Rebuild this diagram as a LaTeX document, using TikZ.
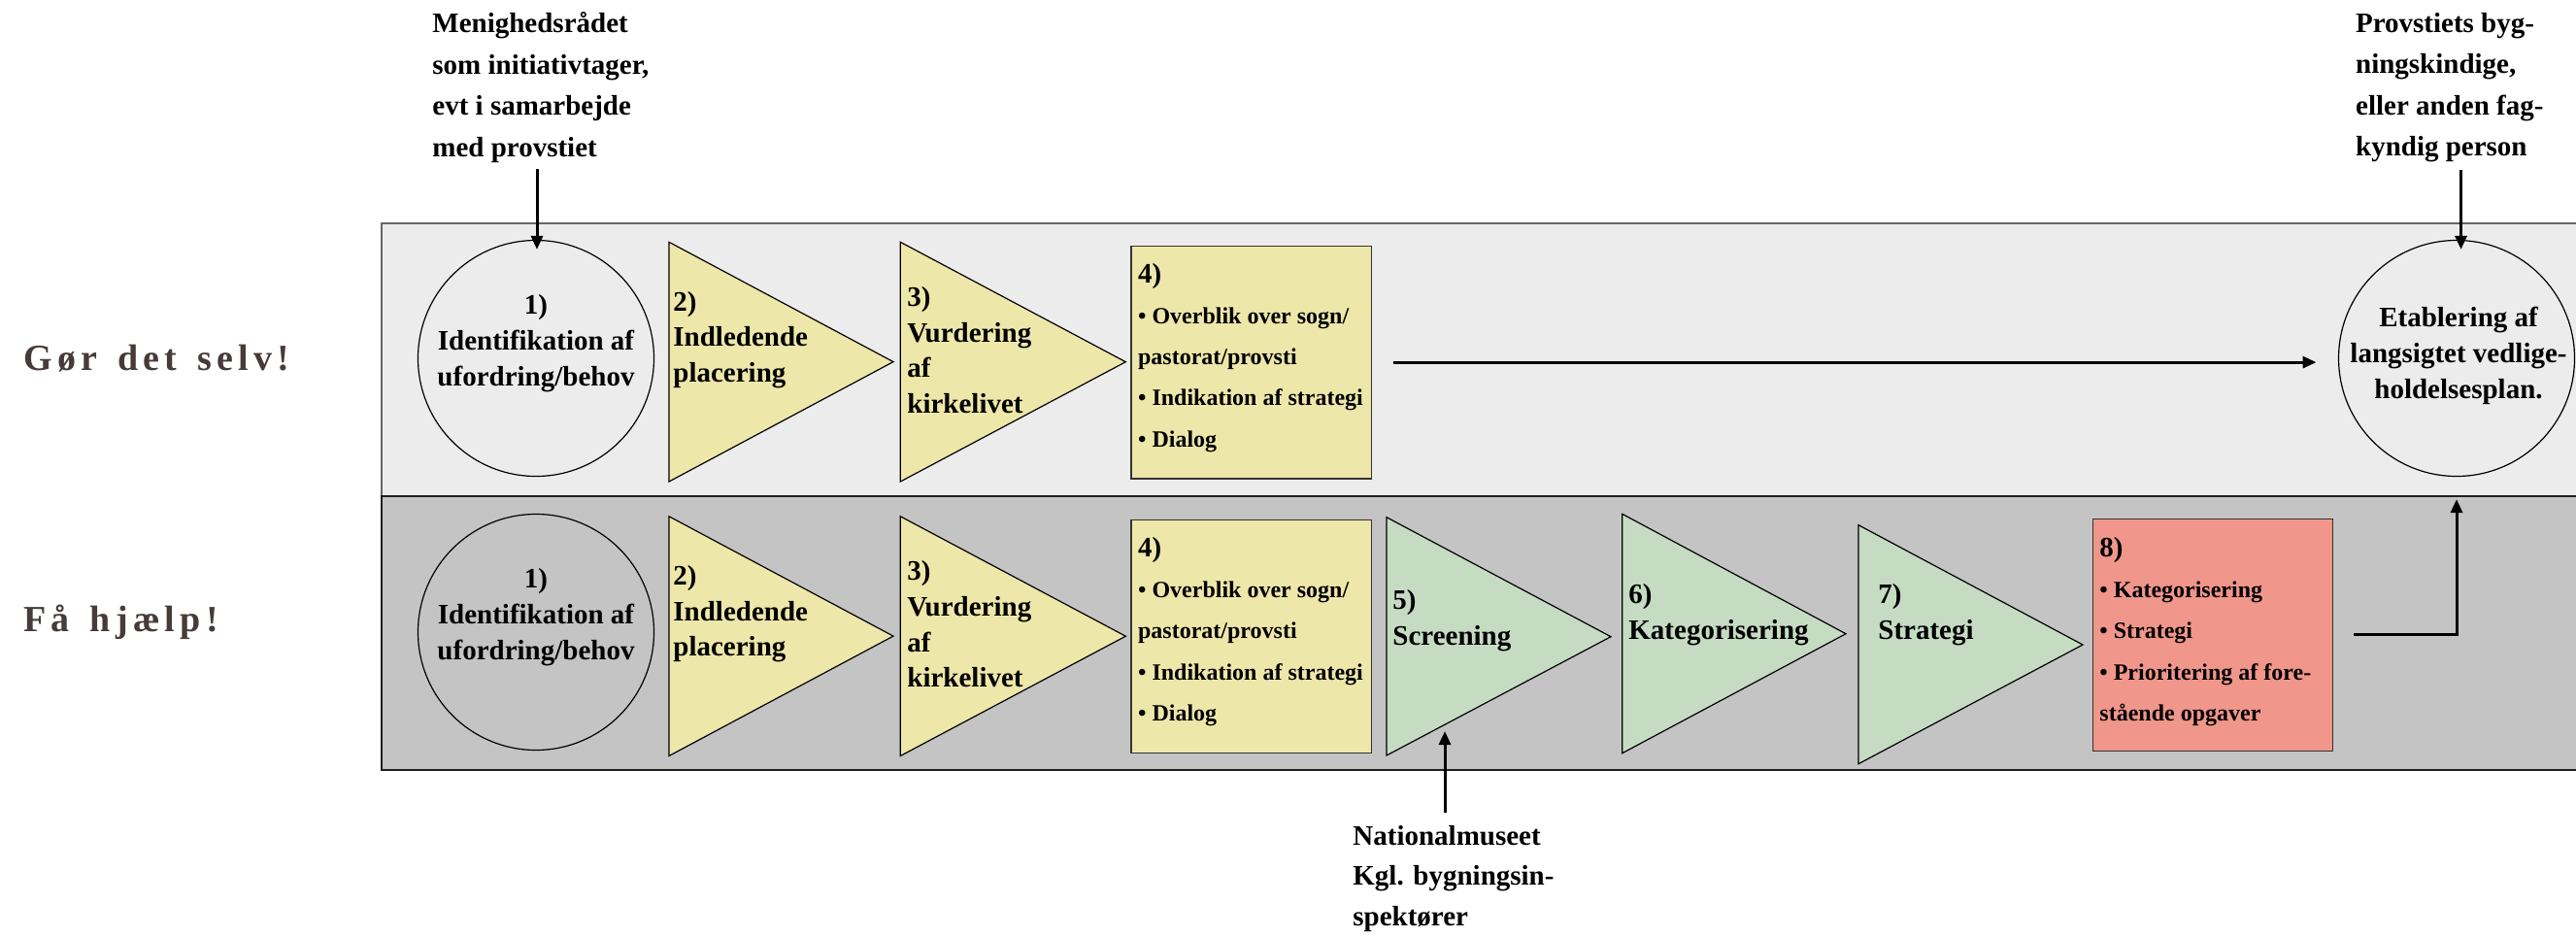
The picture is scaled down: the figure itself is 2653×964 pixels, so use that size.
\documentclass[tikz,border=0pt]{standalone}
\usepackage{fontspec}
\setmainfont{Liberation Serif}
\newfontfamily\lanefont[LetterSpace=14,WordSpace=1.4]{Liberation Serif}
\usetikzlibrary{arrows.meta}
\definecolor{lanetop}{HTML}{ECECEC}
\definecolor{lanebot}{HTML}{C4C4C4}
\definecolor{yel}{HTML}{EEE7AA}
\definecolor{grnfill}{HTML}{C5DCC3}
\definecolor{sal}{HTML}{F0968A}
\definecolor{lblcol}{HTML}{463B38}
\tikzset{
  txt/.style={font=\bfseries\fontsize{14.5pt}{18.3pt}\selectfont, inner sep=0pt, align=left, anchor=base west},
  ctxt/.style={font=\bfseries\fontsize{14.5pt}{18.4pt}\selectfont, inner sep=0pt, align=center, anchor=base},
  ann/.style={font=\bfseries\fontsize{14.5pt}{21.25pt}\selectfont, inner sep=0pt, align=left, anchor=base west},
  boxtxt/.style={font=\bfseries\fontsize{12pt}{21.1pt}\selectfont, inner sep=0pt, align=left, anchor=base west},
  lanelbl/.style={font=\lanefont\bfseries\fontsize{19pt}{22pt}\selectfont, text=lblcol, inner sep=0pt, anchor=base west},
  circ/.style={circle, draw=black, line width=0.6pt, minimum size=121.5pt, inner sep=0pt},
  tri/.style={draw=black, line width=0.6pt},
  stepbox/.style={rectangle, draw=black!80, line width=0.6pt, inner sep=0pt, anchor=north west},
  arr/.style={line width=1.5pt, -{Triangle[length=7pt,width=6pt]}}
}
\newcommand{\bignum}[1]{{\fontsize{14.5pt}{21.1pt}\selectfont #1}}
\begin{document}
\begin{tikzpicture}[x=0.5pt,y=-0.5pt]
\useasboundingbox (0,0) rectangle (2653,964);
% lanes
\filldraw[fill=lanetop, draw=black!60, line width=1pt] (393,229.5) rectangle (2670,511);
\filldraw[fill=lanebot, draw=black!88, line width=1pt] (393,511) rectangle (2670,793);
% lane labels
\node[lanelbl] (lane1) at (24,381.7) {Gør det selv!};
\node[lanelbl] (lane2) at (24,650) {Få hjælp!};

% ---------- top row (text nodes placed by the baseline of their last line) ----------
\node[circ] (c1t) at (552,369) {};
\node[ctxt] (c1t-txt) at (552,397) {1)\\Identifikation af\\ufordring/behov};
\draw[tri, fill=yel] (689,249.3) -- (689,496) -- (920,372.6) -- cycle;
\node[txt] (t2t-txt) at (693,393.3) {2)\\Indledende\\placering};
\draw[tri, fill=yel] (927.3,249.3) -- (927.3,496) -- (1159.3,372.7) -- cycle;
\node[txt] (t3t-txt) at (934,425.2) {3)\\Vurdering\\af\\kirkelivet};
\node[stepbox, fill=yel, minimum width=123.7pt, minimum height=119.8pt] (b4t) at (1164.3,252.7) {};
\node[boxtxt] (b4t-txt) at (1171.7,460) {\bignum{4)}\\• Overblik over sogn/\\pastorat/provsti\\• Indikation af strategi\\• Dialog};
\node[circ] (endc) at (2530,369) {};
\node[ctxt, font=\bfseries\fontsize{14.5pt}{18.5pt}\selectfont] (endc-txt) at (2532,410.5) {Etablering af\\langsigtet vedlige-\\holdelsesplan.};

% ---------- bottom row ----------
\node[circ] (c1b) at (552,651) {};
\node[ctxt] (c1b-txt) at (552,679) {1)\\Identifikation af\\ufordring/behov};
\draw[tri, fill=yel] (689,531.8) -- (689,778.5) -- (920,655.1) -- cycle;
\node[txt] (t2b-txt) at (693,675.8) {2)\\Indledende\\placering};
\draw[tri, fill=yel] (927.3,531.8) -- (927.3,778.5) -- (1159.3,655.2) -- cycle;
\node[txt] (t3b-txt) at (934,707.7) {3)\\Vurdering\\af\\kirkelivet};
\node[stepbox, fill=yel, minimum width=123.7pt, minimum height=119.9pt] (b4b) at (1164.3,535) {};
\node[boxtxt] (b4b-txt) at (1171.7,742.3) {\bignum{4)}\\• Overblik over sogn/\\pastorat/provsti\\• Indikation af strategi\\• Dialog};
\draw[tri, fill=grnfill] (1428,532.7) -- (1428,778) -- (1659,655.7) -- cycle;
\node[txt] (t5-txt) at (1434,664) {5)\\Screening};
\draw[tri, fill=grnfill] (1670.7,529.3) -- (1670.7,775.7) -- (1901,652.7) -- cycle;
\node[txt] (t6-txt) at (1677,658.5) {6)\\Kategorisering};
\draw[tri, fill=grnfill] (1914,540.7) -- (1914,786.7) -- (2145,664) -- cycle;
\node[txt] (t7-txt) at (1934,658.5) {7)\\Strategi};
\node[stepbox, fill=sal, minimum width=123.35pt, minimum height=119.3pt] (b8) at (2155,534) {};
\node[boxtxt] (b8-txt) at (2162,742.3) {\bignum{8)}\\• Kategorisering\\• Strategi\\• Prioritering af fore-\\stående opgaver};

% ---------- annotations ----------
\node[ann] (menig) at (445,161) {Menighedsrådet\\som initiativtager,\\evt i samarbejde\\med provstiet};
\node[ann] (provst) at (2425.7,160.5) {Provstiets byg-\\ningskindige,\\eller anden fag-\\kyndig person};
\node[ann, font=\bfseries\fontsize{14.5pt}{20.8pt}\selectfont] (natl) at (1393,953.5) {Nationalmuseet\\Kgl. bygningsin-\\spektører};

% ---------- connectors ----------
\coordinate (menig-arr) at (553,174);
\draw[arr, shorten >=-5pt] (menig-arr) -- (menig-arr |- c1t.north);
\coordinate (provst-arr) at (2534.5,175);
\draw[arr, shorten >=-5pt] (provst-arr) -- (provst-arr |- endc.north);
\draw[arr, shorten <=11pt, shorten >=11.2pt] (b4t) -- (b4t -| endc.west);
\draw[arr, shorten <=10.6pt, shorten >=11.5pt] (b8) -| (endc);
\coordinate (natl-arr) at (1488,837);
\coordinate (t5-hit) at (1488,753);
\draw[arr] (natl-arr) -- (t5-hit);
\end{tikzpicture}
\end{document}
